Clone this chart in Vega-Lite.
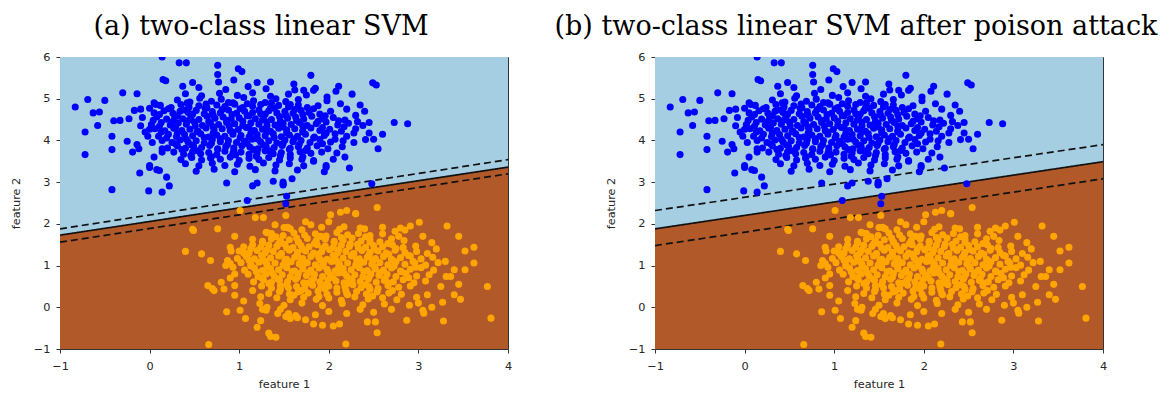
{
"$schema":"https://vega.github.io/schema/vega-lite/v6.json",
"padding":{"left":9,"top":12,"right":5,"bottom":5},
"spacing":147,
"bounds":"flush",
"config":{"view":{"stroke":"#333","strokeWidth":1},
"axis":{"grid":false,"domain":false,"tickColor":"#333","tickSize":4,"labelFont":"DejaVu Sans","labelFontSize":11.3,"labelColor":"#262626","titleFont":"DejaVu Sans","titleFontSize":11.3,"titleFontWeight":"normal","titleColor":"#262626","labelFlush":false,"labelOverlap":false},
"title":{"font":"DejaVu Serif","fontSize":27,"fontWeight":"normal","color":"#000","offset":10,"anchor":"middle","frame":"bounds"}},
"datasets":{
"bound_a":[{"x":-1,"y":1.73},{"x":4,"y":3.36}],
"lines_a":[{"x":-1,"y":1.88,"x2":4,"y2":3.54,"k":"margin"},{"x":-1,"y":1.73,"x2":4,"y2":3.36,"k":"solid"},{"x":-1,"y":1.56,"x2":4,"y2":3.20,"k":"margin"}],
"bound_b":[{"x":-1,"y":1.88},{"x":4,"y":3.49}],
"lines_b":[{"x":-1,"y":2.32,"x2":4,"y2":3.90,"k":"margin"},{"x":-1,"y":1.88,"x2":4,"y2":3.49,"k":"solid"},{"x":-1,"y":1.48,"x2":4,"y2":3.08,"k":"margin"}],
"blue":[
{"x":0.55,"y":5.27},{"x":0.85,"y":5.22},{"x":1.10,"y":5.29},{"x":1.30,"y":5.24},{"x":1.62,"y":5.21},
{"x":0.40,"y":5.12},{"x":0.58,"y":5.07},{"x":0.78,"y":5.13},{"x":0.98,"y":5.08},{"x":1.15,"y":5.14},{"x":1.35,"y":5.06},{"x":1.55,"y":5.11},{"x":1.75,"y":5.09},
{"x":0.31,"y":4.97},{"x":0.45,"y":4.92},{"x":0.56,"y":5.01},{"x":0.69,"y":4.94},{"x":0.80,"y":4.99},{"x":0.93,"y":4.90},{"x":1.05,"y":5.03},{"x":1.16,"y":4.95},{"x":1.29,"y":4.91},{"x":1.41,"y":5.00},{"x":1.52,"y":4.93},{"x":1.66,"y":4.98},
{"x":0.12,"y":4.84},{"x":0.24,"y":4.79},{"x":0.35,"y":4.86},{"x":0.44,"y":4.80},{"x":0.55,"y":4.83},{"x":0.64,"y":4.78},{"x":0.75,"y":4.85},{"x":0.84,"y":4.81},{"x":0.95,"y":4.87},{"x":1.04,"y":4.79},{"x":1.15,"y":4.82},{"x":1.24,"y":4.86},{"x":1.35,"y":4.78},{"x":1.44,"y":4.84},{"x":1.55,"y":4.80},{"x":1.66,"y":4.85},{"x":1.76,"y":4.79},{"x":1.88,"y":4.83},
{"x":0.05,"y":4.66},{"x":0.16,"y":4.71},{"x":0.26,"y":4.65},{"x":0.34,"y":4.70},{"x":0.43,"y":4.67},{"x":0.52,"y":4.72},{"x":0.61,"y":4.64},{"x":0.70,"y":4.69},{"x":0.79,"y":4.66},{"x":0.88,"y":4.73},{"x":0.97,"y":4.65},{"x":1.06,"y":4.70},{"x":1.15,"y":4.67},{"x":1.24,"y":4.64},{"x":1.33,"y":4.71},{"x":1.42,"y":4.66},{"x":1.51,"y":4.69},{"x":1.60,"y":4.65},{"x":1.69,"y":4.72},{"x":1.78,"y":4.67},{"x":1.90,"y":4.63},{"x":2.02,"y":4.70},
{"x":0.08,"y":4.56},{"x":0.19,"y":4.51},{"x":0.28,"y":4.57},{"x":0.37,"y":4.52},{"x":0.46,"y":4.55},{"x":0.55,"y":4.50},{"x":0.64,"y":4.58},{"x":0.73,"y":4.53},{"x":0.82,"y":4.56},{"x":0.91,"y":4.51},{"x":1.00,"y":4.54},{"x":1.09,"y":4.59},{"x":1.18,"y":4.52},{"x":1.27,"y":4.55},{"x":1.36,"y":4.50},{"x":1.45,"y":4.57},{"x":1.54,"y":4.53},{"x":1.63,"y":4.56},{"x":1.72,"y":4.51},{"x":1.81,"y":4.58},{"x":1.93,"y":4.52},{"x":2.05,"y":4.55},{"x":2.18,"y":4.49},
{"x":0.02,"y":4.38},{"x":0.13,"y":4.43},{"x":0.23,"y":4.37},{"x":0.32,"y":4.42},{"x":0.41,"y":4.39},{"x":0.50,"y":4.44},{"x":0.59,"y":4.36},{"x":0.68,"y":4.41},{"x":0.77,"y":4.38},{"x":0.86,"y":4.43},{"x":0.95,"y":4.40},{"x":1.04,"y":4.36},{"x":1.13,"y":4.42},{"x":1.22,"y":4.39},{"x":1.31,"y":4.44},{"x":1.40,"y":4.37},{"x":1.49,"y":4.41},{"x":1.58,"y":4.38},{"x":1.67,"y":4.43},{"x":1.76,"y":4.36},{"x":1.86,"y":4.40},{"x":1.97,"y":4.44},{"x":2.10,"y":4.37},{"x":2.22,"y":4.41},
{"x":0.06,"y":4.28},{"x":0.17,"y":4.23},{"x":0.27,"y":4.29},{"x":0.36,"y":4.24},{"x":0.45,"y":4.27},{"x":0.54,"y":4.22},{"x":0.63,"y":4.30},{"x":0.72,"y":4.25},{"x":0.81,"y":4.28},{"x":0.90,"y":4.23},{"x":0.99,"y":4.26},{"x":1.08,"y":4.31},{"x":1.17,"y":4.24},{"x":1.26,"y":4.27},{"x":1.35,"y":4.22},{"x":1.44,"y":4.29},{"x":1.53,"y":4.25},{"x":1.62,"y":4.28},{"x":1.71,"y":4.23},{"x":1.80,"y":4.30},{"x":1.90,"y":4.24},{"x":2.01,"y":4.27},{"x":2.14,"y":4.22},{"x":2.30,"y":4.28},
{"x":0.10,"y":4.10},{"x":0.21,"y":4.15},{"x":0.30,"y":4.09},{"x":0.39,"y":4.14},{"x":0.48,"y":4.11},{"x":0.57,"y":4.16},{"x":0.66,"y":4.08},{"x":0.75,"y":4.13},{"x":0.84,"y":4.10},{"x":0.93,"y":4.15},{"x":1.02,"y":4.12},{"x":1.11,"y":4.08},{"x":1.20,"y":4.14},{"x":1.29,"y":4.11},{"x":1.38,"y":4.16},{"x":1.47,"y":4.09},{"x":1.56,"y":4.13},{"x":1.65,"y":4.10},{"x":1.74,"y":4.15},{"x":1.84,"y":4.08},{"x":1.95,"y":4.12},{"x":2.07,"y":4.16},{"x":2.20,"y":4.10},
{"x":0.14,"y":4.00},{"x":0.25,"y":3.95},{"x":0.34,"y":4.01},{"x":0.43,"y":3.96},{"x":0.52,"y":3.99},{"x":0.61,"y":3.94},{"x":0.70,"y":4.02},{"x":0.79,"y":3.97},{"x":0.88,"y":4.00},{"x":0.97,"y":3.95},{"x":1.06,"y":3.98},{"x":1.15,"y":4.03},{"x":1.24,"y":3.96},{"x":1.33,"y":3.99},{"x":1.42,"y":3.94},{"x":1.51,"y":4.01},{"x":1.60,"y":3.97},{"x":1.69,"y":4.00},{"x":1.79,"y":3.95},{"x":1.90,"y":4.02},{"x":2.02,"y":3.96},{"x":2.16,"y":3.99},
{"x":0.20,"y":3.82},{"x":0.31,"y":3.87},{"x":0.40,"y":3.81},{"x":0.49,"y":3.86},{"x":0.58,"y":3.83},{"x":0.67,"y":3.88},{"x":0.76,"y":3.80},{"x":0.85,"y":3.85},{"x":0.94,"y":3.82},{"x":1.03,"y":3.87},{"x":1.12,"y":3.84},{"x":1.21,"y":3.80},{"x":1.30,"y":3.86},{"x":1.39,"y":3.83},{"x":1.48,"y":3.88},{"x":1.57,"y":3.81},{"x":1.66,"y":3.85},{"x":1.76,"y":3.82},{"x":1.87,"y":3.87},{"x":1.99,"y":3.80},
{"x":0.27,"y":3.72},{"x":0.38,"y":3.67},{"x":0.48,"y":3.73},{"x":0.57,"y":3.68},{"x":0.66,"y":3.71},{"x":0.75,"y":3.66},{"x":0.84,"y":3.74},{"x":0.93,"y":3.69},{"x":1.02,"y":3.72},{"x":1.11,"y":3.67},{"x":1.20,"y":3.70},{"x":1.29,"y":3.75},{"x":1.38,"y":3.68},{"x":1.47,"y":3.71},{"x":1.57,"y":3.66},{"x":1.68,"y":3.73},{"x":1.80,"y":3.69},{"x":1.92,"y":3.72},
{"x":0.35,"y":3.54},{"x":0.47,"y":3.59},{"x":0.58,"y":3.53},{"x":0.68,"y":3.58},{"x":0.79,"y":3.55},{"x":0.90,"y":3.60},{"x":1.00,"y":3.52},{"x":1.11,"y":3.57},{"x":1.22,"y":3.54},{"x":1.33,"y":3.59},{"x":1.45,"y":3.53},{"x":1.57,"y":3.58},{"x":1.70,"y":3.55},{"x":1.83,"y":3.52},
{"x":0.40,"y":3.44},{"x":0.55,"y":3.39},{"x":0.70,"y":3.45},{"x":0.84,"y":3.40},{"x":0.98,"y":3.43},{"x":1.12,"y":3.38},{"x":1.27,"y":3.46},{"x":1.41,"y":3.41},{"x":1.56,"y":3.44},{"x":1.72,"y":3.39},
{"x":0.52,"y":3.26},{"x":0.72,"y":3.31},{"x":0.95,"y":3.25},{"x":1.18,"y":3.30},{"x":1.40,"y":3.27},{"x":1.65,"y":3.29},
{"x":0.42,"y":4.90},{"x":0.63,"y":4.87},{"x":0.88,"y":4.91},{"x":1.09,"y":4.88},{"x":1.36,"y":4.90},{"x":1.57,"y":4.86},
{"x":0.21,"y":4.76},{"x":0.39,"y":4.73},{"x":0.62,"y":4.77},{"x":0.81,"y":4.74},{"x":1.01,"y":4.76},{"x":1.22,"y":4.73},{"x":1.39,"y":4.77},{"x":1.62,"y":4.74},{"x":1.83,"y":4.76},
{"x":0.11,"y":4.62},{"x":0.31,"y":4.59},{"x":0.48,"y":4.63},{"x":0.71,"y":4.60},{"x":0.92,"y":4.62},{"x":1.11,"y":4.59},{"x":1.29,"y":4.63},{"x":1.52,"y":4.60},{"x":1.71,"y":4.62},{"x":1.96,"y":4.59},
{"x":0.04,"y":4.48},{"x":0.26,"y":4.46},{"x":0.44,"y":4.49},{"x":0.66,"y":4.45},{"x":0.86,"y":4.48},{"x":1.04,"y":4.46},{"x":1.26,"y":4.49},{"x":1.46,"y":4.45},{"x":1.64,"y":4.48},{"x":1.88,"y":4.46},{"x":2.11,"y":4.47},
{"x":0.11,"y":4.34},{"x":0.29,"y":4.31},{"x":0.51,"y":4.35},{"x":0.71,"y":4.32},{"x":0.89,"y":4.34},{"x":1.11,"y":4.31},{"x":1.31,"y":4.35},{"x":1.49,"y":4.32},{"x":1.71,"y":4.34},{"x":1.93,"y":4.31},{"x":2.17,"y":4.33},
{"x":0.13,"y":4.20},{"x":0.31,"y":4.17},{"x":0.53,"y":4.21},{"x":0.71,"y":4.18},{"x":0.93,"y":4.20},{"x":1.13,"y":4.17},{"x":1.31,"y":4.21},{"x":1.53,"y":4.18},{"x":1.71,"y":4.20},{"x":1.97,"y":4.17},
{"x":0.19,"y":4.06},{"x":0.41,"y":4.03},{"x":0.61,"y":4.07},{"x":0.79,"y":4.04},{"x":1.01,"y":4.06},{"x":1.21,"y":4.03},{"x":1.39,"y":4.07},{"x":1.61,"y":4.04},{"x":1.83,"y":4.06},{"x":2.07,"y":4.03},
{"x":0.29,"y":3.92},{"x":0.47,"y":3.89},{"x":0.69,"y":3.93},{"x":0.87,"y":3.90},{"x":1.09,"y":3.92},{"x":1.27,"y":3.89},{"x":1.49,"y":3.93},{"x":1.67,"y":3.90},{"x":1.93,"y":3.92},
{"x":0.36,"y":3.78},{"x":0.54,"y":3.75},{"x":0.76,"y":3.79},{"x":0.94,"y":3.76},{"x":1.16,"y":3.78},{"x":1.34,"y":3.75},{"x":1.56,"y":3.79},{"x":1.74,"y":3.76},
{"x":0.46,"y":3.64},{"x":0.69,"y":3.61},{"x":0.96,"y":3.65},{"x":1.19,"y":3.62},{"x":1.46,"y":3.64},{"x":1.71,"y":3.61},
{"x":-0.17,"y":4.72},{"x":-0.10,"y":4.75},{"x":0.00,"y":4.77},{"x":0.05,"y":4.90},{"x":0.07,"y":4.86},{"x":-0.05,"y":4.20},{"x":0.00,"y":4.27},{"x":-0.02,"y":4.10},{"x":-0.14,"y":3.90},{"x":-0.12,"y":3.80},{"x":0.00,"y":3.40},{"x":0.00,"y":3.35},{"x":0.08,"y":3.30},{"x":0.11,"y":3.28},{"x":0.14,"y":3.72},{"x":0.14,"y":3.80},{"x":-0.08,"y":4.55},{"x":-0.10,"y":4.35},{"x":0.03,"y":3.95},{"x":0.05,"y":3.60},
{"x":2.30,"y":4.60},{"x":2.20,"y":4.75},{"x":2.35,"y":4.85},{"x":2.15,"y":3.85},{"x":2.28,"y":3.95},{"x":2.32,"y":4.45},{"x":2.05,"y":3.55},{"x":2.18,"y":3.60},{"x":1.98,"y":4.95},{"x":2.08,"y":5.18},{"x":2.40,"y":4.70},{"x":1.85,"y":5.25},{"x":1.95,"y":3.25},{"x":2.60,"y":4.15},{"x":2.55,"y":3.80},
{"x":-0.83,"y":4.80},{"x":-0.69,"y":4.98},{"x":-0.72,"y":4.20},{"x":-0.72,"y":3.66},{"x":-0.63,"y":4.66},{"x":-0.56,"y":4.68},{"x":-0.50,"y":4.96},{"x":-0.58,"y":4.36},{"x":-0.42,"y":4.10},{"x":-0.42,"y":3.78},{"x":-0.42,"y":2.82},{"x":-0.40,"y":4.47},{"x":-0.33,"y":4.48},{"x":-0.30,"y":5.14},{"x":-0.23,"y":4.52},{"x":-0.25,"y":3.98},{"x":-0.19,"y":3.72},{"x":-0.14,"y":5.12},{"x":-0.11,"y":3.22},{"x":-0.01,"y":2.79},{"x":0.14,"y":2.76},{"x":0.14,"y":6.0},{"x":0.22,"y":2.91},{"x":0.19,"y":3.12},{"x":0.33,"y":5.86},{"x":0.41,"y":5.86},{"x":0.15,"y":5.46},{"x":0.18,"y":5.43},{"x":0.37,"y":5.30},{"x":0.76,"y":5.80},{"x":0.76,"y":5.58},{"x":0.99,"y":5.72},{"x":1.03,"y":5.65},{"x":0.86,"y":2.98},{"x":1.15,"y":2.91},{"x":1.09,"y":2.56},{"x":1.49,"y":2.95},{"x":1.52,"y":2.48},{"x":1.53,"y":2.66},{"x":1.80,"y":5.56},{"x":2.11,"y":5.30},{"x":2.49,"y":5.38},{"x":2.53,"y":5.33},{"x":2.26,"y":5.11},{"x":2.13,"y":4.88},{"x":1.98,"y":5.04},{"x":2.73,"y":4.43},{"x":2.88,"y":4.40},{"x":2.38,"y":4.36},{"x":2.45,"y":4.43},{"x":2.45,"y":4.18},{"x":2.41,"y":4.02},{"x":2.50,"y":4.03},{"x":2.28,"y":4.18},{"x":2.09,"y":3.70},{"x":2.23,"y":3.34},{"x":1.97,"y":3.40},{"x":1.97,"y":3.36},{"x":1.83,"y":3.50},{"x":1.59,"y":3.08},{"x":1.49,"y":2.93},{"x":1.49,"y":3.00},{"x":1.38,"y":3.02},{"x":1.20,"y":2.98},{"x":2.48,"y":2.96},
{"x":0.48,"y":5.39},{"x":0.94,"y":5.45},{"x":1.20,"y":5.39},{"x":1.35,"y":5.40},{"x":1.61,"y":5.35},{"x":1.72,"y":5.20},{"x":1.83,"y":5.20},{"x":0.77,"y":5.40}
],
"orange":[
{"x":1.50,"y":1.91},{"x":1.70,"y":1.86},{"x":1.92,"y":1.92},{"x":2.12,"y":1.87},{"x":2.35,"y":1.90},
{"x":1.36,"y":1.77},{"x":1.49,"y":1.72},{"x":1.61,"y":1.78},{"x":1.73,"y":1.73},{"x":1.85,"y":1.76},{"x":1.97,"y":1.71},{"x":2.09,"y":1.79},{"x":2.21,"y":1.74},{"x":2.33,"y":1.77},{"x":2.46,"y":1.72},{"x":2.60,"y":1.76},
{"x":1.15,"y":1.63},{"x":1.26,"y":1.58},{"x":1.36,"y":1.64},{"x":1.46,"y":1.59},{"x":1.56,"y":1.62},{"x":1.66,"y":1.57},{"x":1.76,"y":1.65},{"x":1.86,"y":1.60},{"x":1.96,"y":1.63},{"x":2.06,"y":1.58},{"x":2.16,"y":1.61},{"x":2.26,"y":1.66},{"x":2.36,"y":1.59},{"x":2.46,"y":1.62},{"x":2.57,"y":1.57},{"x":2.70,"y":1.64},{"x":2.84,"y":1.60},
{"x":1.05,"y":1.45},{"x":1.15,"y":1.50},{"x":1.24,"y":1.44},{"x":1.33,"y":1.49},{"x":1.42,"y":1.46},{"x":1.51,"y":1.51},{"x":1.60,"y":1.43},{"x":1.69,"y":1.48},{"x":1.78,"y":1.45},{"x":1.87,"y":1.50},{"x":1.96,"y":1.47},{"x":2.05,"y":1.43},{"x":2.14,"y":1.49},{"x":2.23,"y":1.46},{"x":2.32,"y":1.51},{"x":2.41,"y":1.44},{"x":2.50,"y":1.48},{"x":2.60,"y":1.45},{"x":2.71,"y":1.50},{"x":2.83,"y":1.43},{"x":2.97,"y":1.47},
{"x":1.00,"y":1.35},{"x":1.11,"y":1.30},{"x":1.20,"y":1.36},{"x":1.29,"y":1.31},{"x":1.38,"y":1.34},{"x":1.47,"y":1.29},{"x":1.56,"y":1.37},{"x":1.65,"y":1.32},{"x":1.74,"y":1.35},{"x":1.83,"y":1.30},{"x":1.92,"y":1.33},{"x":2.01,"y":1.38},{"x":2.10,"y":1.31},{"x":2.19,"y":1.34},{"x":2.28,"y":1.29},{"x":2.37,"y":1.36},{"x":2.46,"y":1.32},{"x":2.55,"y":1.35},{"x":2.64,"y":1.30},{"x":2.74,"y":1.37},{"x":2.85,"y":1.31},{"x":2.98,"y":1.34},{"x":3.10,"y":1.29},
{"x":0.98,"y":1.17},{"x":1.08,"y":1.22},{"x":1.17,"y":1.16},{"x":1.26,"y":1.21},{"x":1.35,"y":1.18},{"x":1.44,"y":1.23},{"x":1.53,"y":1.15},{"x":1.62,"y":1.20},{"x":1.71,"y":1.17},{"x":1.80,"y":1.22},{"x":1.89,"y":1.19},{"x":1.98,"y":1.15},{"x":2.07,"y":1.21},{"x":2.16,"y":1.18},{"x":2.25,"y":1.23},{"x":2.34,"y":1.16},{"x":2.43,"y":1.20},{"x":2.52,"y":1.17},{"x":2.61,"y":1.22},{"x":2.70,"y":1.15},{"x":2.80,"y":1.19},{"x":2.91,"y":1.23},{"x":3.03,"y":1.16},{"x":3.16,"y":1.20},
{"x":1.02,"y":1.07},{"x":1.13,"y":1.02},{"x":1.22,"y":1.08},{"x":1.31,"y":1.03},{"x":1.40,"y":1.06},{"x":1.49,"y":1.01},{"x":1.58,"y":1.09},{"x":1.67,"y":1.04},{"x":1.76,"y":1.07},{"x":1.85,"y":1.02},{"x":1.94,"y":1.05},{"x":2.03,"y":1.10},{"x":2.12,"y":1.03},{"x":2.21,"y":1.06},{"x":2.30,"y":1.01},{"x":2.39,"y":1.08},{"x":2.48,"y":1.04},{"x":2.57,"y":1.07},{"x":2.66,"y":1.02},{"x":2.75,"y":1.09},{"x":2.85,"y":1.03},{"x":2.96,"y":1.06},{"x":3.08,"y":1.01},{"x":3.22,"y":1.07},
{"x":1.06,"y":0.89},{"x":1.17,"y":0.94},{"x":1.26,"y":0.88},{"x":1.35,"y":0.93},{"x":1.44,"y":0.90},{"x":1.53,"y":0.95},{"x":1.62,"y":0.87},{"x":1.71,"y":0.92},{"x":1.80,"y":0.89},{"x":1.89,"y":0.94},{"x":1.98,"y":0.91},{"x":2.07,"y":0.87},{"x":2.16,"y":0.93},{"x":2.25,"y":0.90},{"x":2.34,"y":0.95},{"x":2.43,"y":0.88},{"x":2.52,"y":0.92},{"x":2.61,"y":0.89},{"x":2.70,"y":0.94},{"x":2.80,"y":0.87},{"x":2.91,"y":0.91},{"x":3.03,"y":0.95},{"x":3.17,"y":0.89},
{"x":1.10,"y":0.79},{"x":1.21,"y":0.74},{"x":1.30,"y":0.80},{"x":1.39,"y":0.75},{"x":1.48,"y":0.78},{"x":1.57,"y":0.73},{"x":1.66,"y":0.81},{"x":1.75,"y":0.76},{"x":1.84,"y":0.79},{"x":1.93,"y":0.74},{"x":2.02,"y":0.77},{"x":2.11,"y":0.82},{"x":2.20,"y":0.75},{"x":2.29,"y":0.78},{"x":2.38,"y":0.73},{"x":2.47,"y":0.80},{"x":2.56,"y":0.76},{"x":2.65,"y":0.79},{"x":2.75,"y":0.74},{"x":2.86,"y":0.81},{"x":2.98,"y":0.75},{"x":3.12,"y":0.78},
{"x":1.16,"y":0.61},{"x":1.27,"y":0.66},{"x":1.36,"y":0.60},{"x":1.45,"y":0.65},{"x":1.54,"y":0.62},{"x":1.63,"y":0.67},{"x":1.72,"y":0.59},{"x":1.81,"y":0.64},{"x":1.90,"y":0.61},{"x":1.99,"y":0.66},{"x":2.08,"y":0.63},{"x":2.17,"y":0.59},{"x":2.26,"y":0.65},{"x":2.35,"y":0.62},{"x":2.44,"y":0.67},{"x":2.53,"y":0.60},{"x":2.62,"y":0.64},{"x":2.72,"y":0.61},{"x":2.83,"y":0.66},{"x":2.95,"y":0.59},{"x":3.08,"y":0.63},
{"x":1.25,"y":0.51},{"x":1.36,"y":0.46},{"x":1.46,"y":0.52},{"x":1.55,"y":0.47},{"x":1.64,"y":0.50},{"x":1.73,"y":0.45},{"x":1.82,"y":0.53},{"x":1.91,"y":0.48},{"x":2.00,"y":0.51},{"x":2.09,"y":0.46},{"x":2.18,"y":0.49},{"x":2.27,"y":0.54},{"x":2.36,"y":0.47},{"x":2.45,"y":0.50},{"x":2.55,"y":0.45},{"x":2.66,"y":0.52},{"x":2.78,"y":0.48},{"x":2.91,"y":0.51},
{"x":1.33,"y":0.33},{"x":1.45,"y":0.38},{"x":1.56,"y":0.32},{"x":1.66,"y":0.37},{"x":1.77,"y":0.34},{"x":1.88,"y":0.39},{"x":1.98,"y":0.31},{"x":2.09,"y":0.36},{"x":2.20,"y":0.33},{"x":2.31,"y":0.38},{"x":2.42,"y":0.32},{"x":2.54,"y":0.37},{"x":2.67,"y":0.34},{"x":2.81,"y":0.31},
{"x":1.42,"y":0.23},{"x":1.57,"y":0.18},{"x":1.72,"y":0.24},{"x":1.86,"y":0.19},{"x":2.00,"y":0.22},{"x":2.14,"y":0.17},{"x":2.29,"y":0.25},{"x":2.44,"y":0.20},{"x":2.60,"y":0.23},{"x":2.76,"y":0.18},
{"x":1.50,"y":0.05},{"x":1.70,"y":0.10},{"x":1.93,"y":0.04},{"x":2.15,"y":0.09},{"x":2.38,"y":0.06},{"x":2.62,"y":0.08},
{"x":1.41,"y":1.69},{"x":1.64,"y":1.66},{"x":1.91,"y":1.70},{"x":2.14,"y":1.67},{"x":2.41,"y":1.69},
{"x":1.26,"y":1.55},{"x":1.44,"y":1.52},{"x":1.66,"y":1.56},{"x":1.84,"y":1.53},{"x":2.06,"y":1.55},{"x":2.24,"y":1.52},{"x":2.46,"y":1.56},{"x":2.66,"y":1.53},
{"x":1.13,"y":1.41},{"x":1.31,"y":1.38},{"x":1.53,"y":1.42},{"x":1.71,"y":1.39},{"x":1.93,"y":1.41},{"x":2.11,"y":1.38},{"x":2.33,"y":1.42},{"x":2.51,"y":1.39},{"x":2.75,"y":1.41},
{"x":1.07,"y":1.27},{"x":1.25,"y":1.24},{"x":1.47,"y":1.28},{"x":1.65,"y":1.25},{"x":1.87,"y":1.27},{"x":2.05,"y":1.24},{"x":2.27,"y":1.28},{"x":2.45,"y":1.25},{"x":2.67,"y":1.27},{"x":2.89,"y":1.24},
{"x":1.11,"y":1.13},{"x":1.29,"y":1.10},{"x":1.51,"y":1.14},{"x":1.69,"y":1.11},{"x":1.91,"y":1.13},{"x":2.09,"y":1.10},{"x":2.31,"y":1.14},{"x":2.49,"y":1.11},{"x":2.71,"y":1.13},{"x":2.94,"y":1.10},
{"x":1.13,"y":0.99},{"x":1.31,"y":0.96},{"x":1.53,"y":1.00},{"x":1.71,"y":0.97},{"x":1.93,"y":0.99},{"x":2.11,"y":0.96},{"x":2.33,"y":1.00},{"x":2.51,"y":0.97},{"x":2.73,"y":0.99},{"x":2.97,"y":0.96},
{"x":1.19,"y":0.85},{"x":1.37,"y":0.82},{"x":1.59,"y":0.86},{"x":1.77,"y":0.83},{"x":1.99,"y":0.85},{"x":2.17,"y":0.82},{"x":2.39,"y":0.86},{"x":2.57,"y":0.83},{"x":2.81,"y":0.85},
{"x":1.25,"y":0.71},{"x":1.43,"y":0.68},{"x":1.65,"y":0.72},{"x":1.83,"y":0.69},{"x":2.05,"y":0.71},{"x":2.23,"y":0.68},{"x":2.45,"y":0.72},{"x":2.63,"y":0.69},{"x":2.89,"y":0.71},
{"x":1.33,"y":0.57},{"x":1.53,"y":0.54},{"x":1.77,"y":0.58},{"x":1.97,"y":0.55},{"x":2.21,"y":0.57},{"x":2.41,"y":0.54},{"x":2.67,"y":0.58},
{"x":1.46,"y":0.43},{"x":1.69,"y":0.40},{"x":1.96,"y":0.44},{"x":2.19,"y":0.41},{"x":2.46,"y":0.43},{"x":2.71,"y":0.40},
{"x":1.61,"y":0.29},{"x":1.89,"y":0.26},{"x":2.21,"y":0.30},{"x":2.49,"y":0.27},
{"x":2.13,"y":2.28},{"x":2.20,"y":2.32},{"x":2.30,"y":2.25},{"x":2.00,"y":2.05},{"x":2.02,"y":2.22},{"x":1.74,"y":2.05},{"x":1.80,"y":1.98},{"x":1.55,"y":1.90},{"x":1.57,"y":1.88},{"x":2.78,"y":1.70},{"x":2.85,"y":1.85},{"x":2.91,"y":1.95},{"x":2.74,"y":1.82},{"x":2.80,"y":1.90},{"x":2.17,"y":1.93},{"x":2.40,"y":1.88},{"x":2.60,"y":1.92},{"x":1.05,"y":1.30},{"x":1.07,"y":1.28},{"x":0.85,"y":1.00},{"x":0.93,"y":0.96},{"x":0.80,"y":0.60},{"x":0.90,"y":0.70},{"x":0.95,"y":0.80},{"x":3.20,"y":1.40},{"x":3.30,"y":1.10},{"x":3.25,"y":0.50},{"x":3.40,"y":0.30},{"x":3.10,"y":0.30},{"x":3.00,"y":0.10},{"x":3.15,"y":0.00},{"x":2.90,"y":0.05},{"x":2.70,"y":-0.05},{"x":1.57,"y":-0.27},{"x":1.65,"y":-0.25},{"x":1.74,"y":-0.30},{"x":1.46,"y":-0.05},{"x":1.55,"y":-0.15},{"x":1.63,"y":-0.20},{"x":1.26,"y":-0.05},{"x":2.00,"y":-0.10},{"x":2.20,"y":-0.15},{"x":2.35,"y":-0.05},{"x":2.50,"y":-0.12},{"x":1.85,"y":-0.18},{"x":3.40,"y":0.90},{"x":3.15,"y":1.55},{"x":3.05,"y":1.70},{"x":1.15,"y":0.40},{"x":1.05,"y":0.15},
{"x":1.01,"y":2.32},{"x":1.18,"y":2.15},{"x":1.27,"y":2.15},{"x":1.52,"y":2.20},{"x":1.40,"y":1.98},{"x":0.48,"y":1.87},{"x":0.49,"y":1.84},{"x":0.76,"y":1.88},{"x":0.95,"y":1.70},{"x":1.30,"y":1.80},{"x":1.32,"y":1.78},{"x":1.54,"y":1.92},{"x":0.40,"y":1.34},{"x":0.58,"y":1.28},{"x":0.68,"y":1.12},{"x":0.90,"y":1.44},{"x":0.91,"y":1.35},{"x":0.87,"y":1.12},{"x":0.90,"y":1.05},{"x":0.65,"y":0.52},{"x":0.70,"y":0.45},{"x":0.72,"y":0.40},{"x":0.83,"y":0.44},{"x":0.95,"y":0.29},{"x":0.95,"y":0.52},{"x":0.86,"y":-0.11},{"x":1.01,"y":-0.07},{"x":1.07,"y":-0.27},{"x":1.24,"y":-0.32},{"x":1.20,"y":-0.48},{"x":1.30,"y":-0.07},{"x":1.31,"y":0.00},{"x":1.43,"y":-0.15},{"x":1.52,"y":-0.22},{"x":1.33,"y":-0.62},{"x":1.35,"y":-0.70},{"x":1.41,"y":-0.72},{"x":0.66,"y":-0.89},{"x":1.23,"y":0.09},{"x":2.54,"y":2.39},{"x":2.30,"y":2.24},{"x":3.01,"y":2.04},{"x":3.32,"y":1.95},{"x":3.45,"y":1.70},{"x":3.62,"y":1.44},{"x":3.52,"y":1.35},{"x":3.62,"y":1.06},{"x":3.52,"y":0.90},{"x":3.77,"y":0.50},{"x":3.81,"y":-0.26},{"x":3.47,"y":0.19},{"x":3.45,"y":0.55},{"x":3.31,"y":0.74},{"x":3.36,"y":0.74},{"x":3.28,"y":-0.33},{"x":3.27,"y":0.12},{"x":2.19,"y":-0.88},{"x":2.54,"y":-0.61},{"x":2.43,"y":-0.35},{"x":2.52,"y":-0.35},{"x":2.87,"y":-0.31},{"x":3.05,"y":-0.07},{"x":3.06,"y":-0.14},{"x":2.98,"y":0.24},{"x":1.83,"y":-0.40},{"x":1.93,"y":-0.43},{"x":2.05,"y":-0.45},{"x":2.12,"y":-0.40},{"x":1.24,"y":0.25}
]},
"hconcat":[
{"width":448,"height":292,"title":"(a) two-class linear SVM",
"layer":[
{"data":{"name":"bound_a"},"mark":{"type":"area","color":"#b15928","clip":true},
"encoding":{"x":{"field":"x","type":"quantitative","scale":{"domain":[-1,4],"nice":false,"zero":false},"axis":{"title":"feature 1","values":[-1,0,1,2,3,4],"format":"d","labelPadding":7,"titlePadding":7}},
"y":{"field":"y","type":"quantitative","scale":{"domain":[-1,6],"nice":false,"zero":false},"axis":{"title":"feature 2","values":[-1,0,1,2,3,4,5,6],"format":"d","labelPadding":6,"titlePadding":12}},
"y2":{"datum":-1}}},
{"data":{"name":"bound_a"},"mark":{"type":"area","color":"#a6cee3","clip":true},"encoding":{"x":{"field":"x","type":"quantitative"},"y":{"field":"y","type":"quantitative"},"y2":{"datum":6}}},
{"data":{"name":"lines_a"},"mark":{"type":"rule","color":"#111","strokeWidth":1.7,"clip":true},"encoding":{"x":{"field":"x","type":"quantitative"},"y":{"field":"y","type":"quantitative"},"x2":{"field":"x2"},"y2":{"field":"y2"},"strokeDash":{"field":"k","type":"nominal","scale":{"domain":["solid","margin"],"range":[[1,0],[7,4]]},"legend":null}}},
{"data":{"name":"blue"},"mark":{"type":"circle","color":"#0000ff","opacity":1,"size":50,"clip":true},"encoding":{"x":{"field":"x","type":"quantitative"},"y":{"field":"y","type":"quantitative"}}},
{"data":{"name":"orange"},"mark":{"type":"circle","color":"#ffa500","opacity":1,"size":50,"clip":true},"encoding":{"x":{"field":"x","type":"quantitative"},"y":{"field":"y","type":"quantitative"}}}
]},
{"width":448,"height":292,"title":"(b) two-class linear SVM after poison attack",
"layer":[
{"data":{"name":"bound_b"},"mark":{"type":"area","color":"#b15928","clip":true},
"encoding":{"x":{"field":"x","type":"quantitative","scale":{"domain":[-1,4],"nice":false,"zero":false},"axis":{"title":"feature 1","values":[-1,0,1,2,3,4],"format":"d","labelPadding":7,"titlePadding":7}},
"y":{"field":"y","type":"quantitative","scale":{"domain":[-1,6],"nice":false,"zero":false},"axis":{"title":"feature 2","values":[-1,0,1,2,3,4,5,6],"format":"d","labelPadding":6,"titlePadding":12}},
"y2":{"datum":-1}}},
{"data":{"name":"bound_b"},"mark":{"type":"area","color":"#a6cee3","clip":true},"encoding":{"x":{"field":"x","type":"quantitative"},"y":{"field":"y","type":"quantitative"},"y2":{"datum":6}}},
{"data":{"name":"lines_b"},"mark":{"type":"rule","color":"#111","strokeWidth":1.7,"clip":true},"encoding":{"x":{"field":"x","type":"quantitative"},"y":{"field":"y","type":"quantitative"},"x2":{"field":"x2"},"y2":{"field":"y2"},"strokeDash":{"field":"k","type":"nominal","scale":{"domain":["solid","margin"],"range":[[1,0],[7,4]]},"legend":null}}},
{"data":{"name":"blue"},"mark":{"type":"circle","color":"#0000ff","opacity":1,"size":50,"clip":true},"encoding":{"x":{"field":"x","type":"quantitative"},"y":{"field":"y","type":"quantitative"}}},
{"data":{"name":"orange"},"mark":{"type":"circle","color":"#ffa500","opacity":1,"size":50,"clip":true},"encoding":{"x":{"field":"x","type":"quantitative"},"y":{"field":"y","type":"quantitative"}}}
]}
]
}
